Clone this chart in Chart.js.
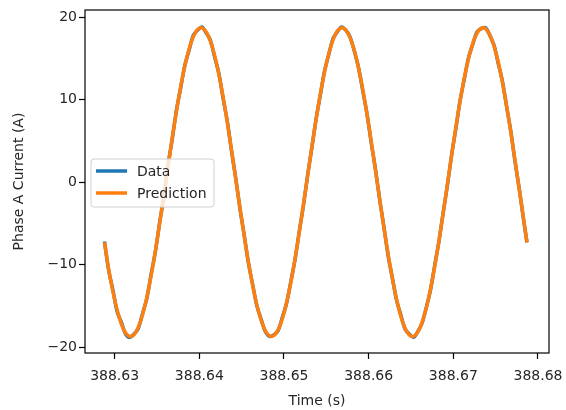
<!DOCTYPE html>
<html>
<head>
<meta charset="utf-8">
<script src="https://cdn.jsdelivr.net/npm/chart.js@4/dist/chart.umd.min.js"></script>
<style>
  html, body { margin: 0; padding: 0; background: #fff; }
  #wrap { width: 566px; height: 410px; }
</style>
</head>
<body>
<div id="wrap"><canvas id="current-chart" width="566" height="410"></canvas></div>
<script>
// time stamps (s)
const times = [
  388.6288, 388.6293, 388.6298, 388.6303, 388.6308, 388.6313, 388.6318, 388.6323, 388.6328, 388.6333,
  388.6338, 388.6343, 388.6348, 388.6353, 388.6358, 388.6363, 388.6368, 388.6373, 388.6378, 388.6383,
  388.6388, 388.6393, 388.6398, 388.6403, 388.6408, 388.6413, 388.6418, 388.6423, 388.6428, 388.6433,
  388.6438, 388.6443, 388.6448, 388.6453, 388.6458, 388.6463, 388.6468, 388.6473, 388.6478, 388.6483,
  388.6488, 388.6493, 388.6498, 388.6503, 388.6508, 388.6513, 388.6518, 388.6523, 388.6528, 388.6533,
  388.6538, 388.6543, 388.6548, 388.6553, 388.6558, 388.6563, 388.6568, 388.6573, 388.6578, 388.6583,
  388.6588, 388.6593, 388.6598, 388.6603, 388.6608, 388.6613, 388.6618, 388.6623, 388.6628, 388.6633,
  388.6638, 388.6643, 388.6648, 388.6653, 388.6658, 388.6663, 388.6668, 388.6673, 388.6678, 388.6683,
  388.6688, 388.6693, 388.6698, 388.6703, 388.6708, 388.6713, 388.6718, 388.6723, 388.6728, 388.6733,
  388.6738, 388.6743, 388.6748, 388.6753, 388.6758, 388.6763, 388.6768, 388.6773, 388.6778, 388.6783,
  388.6787
];

// measured phase A current (A)
const measured = [
  -7.2, -10.7, -13.1, -15.7, -17.0, -18.4, -18.8, -18.4, -17.7, -15.9,
  -14.1, -11.2, -8.5, -5.0, -1.8, 2.0, 5.2, 8.7, 11.4, 14.2,
  16.0, 17.8, 18.4, 18.8, 18.1, 17.2, 15.2, 13.2, 10.2, 7.4,
  3.8, 0.5, -3.2, -6.4, -9.8, -12.4, -15.0, -16.6, -18.1, -18.7,
  -18.5, -18.0, -16.4, -14.7, -12.1, -9.4, -6.0, -2.8, 0.9, 4.2,
  7.7, 10.6, 13.5, 15.5, 17.4, 18.2, 18.8, 18.4, 17.6, 15.9,
  13.9, 11.1, 8.3, 4.8, 1.6, -2.1, -5.4, -8.9, -11.6, -14.3,
  -16.1, -17.8, -18.4, -18.8, -18.1, -17.1, -15.2, -13.1, -10.1, -7.2,
  -3.7, -0.4, 3.3, 6.5, 9.9, 12.5, 15.1, 16.7, 18.2, 18.6,
  18.7, 17.8, 16.6, 14.4, 12.2, 9.1, 6.1, 2.4, -0.9, -4.6,
  -7.3
];

// model prediction (A)
const predicted = [
  -7.3, -10.57, -13.28, -15.51, -17.19, -18.27, -18.69, -18.46, -17.56, -16.05,
  -13.96, -11.38, -8.40, -5.11, -1.65, 1.87, 5.33, 8.60, 11.56, 14.11,
  16.16, 17.64, 18.49, 18.69, 18.22, 17.10, 15.38, 13.12, 10.38, 7.28,
  3.92, 0.42, -3.09, -6.50, -9.67, -12.49, -14.89, -16.74, -18.01, -18.63,
  -18.60, -17.90, -16.57, -14.64, -12.21, -9.34, -6.13, -2.71, 0.81, 4.30,
  7.63, 10.70, 13.38, 15.60, 17.26, 18.30, 18.70, 18.43, 17.50, 15.97,
  13.85, 11.25, 8.25, 4.96, 1.49, -2.04, -5.49, -8.74, -11.68, -14.22,
  -16.25, -17.69, -18.51, -18.68, -18.18, -17.03, -15.29, -13.00, -10.24, -7.13,
  -3.76, -0.26, 3.25, 6.65, 9.81, 12.62, 14.98, 16.82, 18.05, 18.65,
  18.58, 17.85, 16.49, 14.55, 12.08, 9.20, 5.98, 2.55, -0.97, -4.46,
  -7.3
];

const xTicks = [388.63, 388.64, 388.65, 388.66, 388.67, 388.68];
const yTicks = [-20, -10, 0, 10, 20];

const FONT = "'DejaVu Sans', sans-serif";
const TEXT = "#262626";

const toPoints = (ys) => ys.map((y, i) => ({ x: times[i], y: y }));

// matplotlib style box around the plot + legend inside the axes
const framePlugin = {
  id: "frame",
  afterDraw(chart) {
    const { ctx, chartArea: a } = chart;
    ctx.save();
    ctx.strokeStyle = "#000";
    ctx.lineWidth = 1.2;
    ctx.strokeRect(a.left, a.top, a.right - a.left, a.bottom - a.top);

    // legend box
    const bx = 91, by = 159, bw = 123, bh = 48, r = 3;
    ctx.beginPath();
    ctx.moveTo(bx + r, by);
    ctx.arcTo(bx + bw, by, bx + bw, by + bh, r);
    ctx.arcTo(bx + bw, by + bh, bx, by + bh, r);
    ctx.arcTo(bx, by + bh, bx, by, r);
    ctx.arcTo(bx, by, bx + bw, by, r);
    ctx.closePath();
    ctx.fillStyle = "rgba(255,255,255,0.8)";
    ctx.fill();
    ctx.strokeStyle = "#d0d0d0";
    ctx.lineWidth = 1;
    ctx.stroke();

    ctx.font = "14px " + FONT;
    ctx.textBaseline = "middle";
    ctx.fillStyle = TEXT;
    chart.data.datasets.forEach((ds, i) => {
      const ly = 171 + i * 22;
      ctx.beginPath();
      ctx.moveTo(96, ly);
      ctx.lineTo(127, ly);
      ctx.strokeStyle = ds.borderColor;
      ctx.lineWidth = 3.5;
      ctx.stroke();
      ctx.fillText(ds.label, 137, ly + 1);
    });
    ctx.restore();
  }
};

new Chart(document.getElementById("current-chart"), {
  type: "line",
  data: {
    datasets: [
      {
        label: "Data",
        data: toPoints(measured),
        borderColor: "#1f77b4",
        borderWidth: 3.5,
        pointRadius: 0,
        tension: 0.3,
        order: 1
      },
      {
        label: "Prediction",
        data: toPoints(predicted),
        borderColor: "#ff7f0e",
        borderWidth: 3.5,
        pointRadius: 0,
        tension: 0.3,
        order: 0
      }
    ]
  },
  options: {
    responsive: false,
    animation: false,
    layout: { padding: { top: 10, right: 17, left: 0, bottom: 0 } },
    plugins: {
      legend: { display: false },
      tooltip: { enabled: false }
    },
    scales: {
      x: {
        type: "linear",
        min: 388.6265,
        max: 388.6813,
        afterBuildTicks: (scale) => { scale.ticks = xTicks.map(v => ({ value: v })); },
        afterFit: (scale) => {
          scale.height = 57;
          scale.paddingLeft = 0;
          scale.paddingRight = 0;
        },
        grid: { drawOnChartArea: false, drawTicks: true, tickLength: 6, color: "#000", tickWidth: 1.2 },
        border: { display: false },
        ticks: {
          font: { family: FONT, size: 14 },
          color: TEXT,
          padding: 9,
          maxRotation: 0,
          callback: (v) => v.toFixed(2)
        },
        title: {
          display: true,
          text: "Time (s)",
          font: { family: FONT, size: 14 },
          color: TEXT,
          padding: { top: 0, bottom: 0 }
        }
      },
      y: {
        type: "linear",
        min: -20.7,
        max: 20.85,
        afterBuildTicks: (scale) => { scale.ticks = yTicks.map(v => ({ value: v })); },
        afterFit: (scale) => {
          scale.width = 85;
          scale.paddingTop = 0;
          scale.paddingBottom = 0;
        },
        grid: { drawOnChartArea: false, drawTicks: true, tickLength: 6, color: "#000", tickWidth: 1.2 },
        border: { display: false },
        ticks: {
          font: { family: FONT, size: 14 },
          color: TEXT,
          padding: 2,
          callback: (v) => (v < 0 ? "\u2212" + Math.abs(v) : String(v))
        },
        title: {
          display: true,
          text: "Phase A Current (A)",
          font: { family: FONT, size: 14 },
          color: TEXT,
          padding: { top: 11, bottom: 0 }
        }
      }
    }
  },
  plugins: [framePlugin]
});
</script>
</body>
</html>
